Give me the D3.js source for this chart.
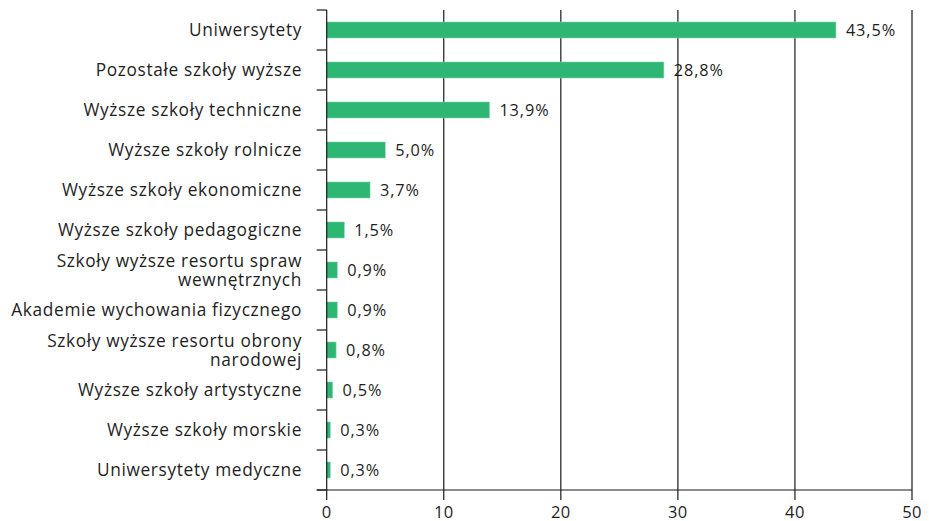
<!DOCTYPE html>
<html><head><meta charset="utf-8">
<script src="https://cdn.jsdelivr.net/npm/d3@7"></script>
<style>body{margin:0;background:#fff}svg{display:block}text{font-family:"Open Sans",Lato,sans-serif;fill:#1e1e1e}</style>
</head><body><svg id="c" width="929" height="521"></svg>
<script>
const categories = [
  ["Uniwersytety"],
  ["Pozostałe szkoły wyższe"],
  ["Wyższe szkoły techniczne"],
  ["Wyższe szkoły rolnicze"],
  ["Wyższe szkoły ekonomiczne"],
  ["Wyższe szkoły pedagogiczne"],
  ["Szkoły wyższe resortu spraw", "wewnętrznych"],
  ["Akademie wychowania fizycznego"],
  ["Szkoły wyższe resortu obrony", "narodowej"],
  ["Wyższe szkoły artystyczne"],
  ["Wyższe szkoły morskie"],
  ["Uniwersytety medyczne"]
];
const values = [43.5, 28.8, 13.9, 5.0, 3.7, 1.5, 0.9, 0.9, 0.8, 0.5, 0.3, 0.3];
const xTicks = [0, 10, 20, 30, 40, 50];

(function() {
const svg = d3.select("#c");
const mLeft = 326.7, mRight = 912, mTop = 10, mBottom = 490;
const x = d3.scaleLinear().domain([0, 50]).range([mLeft, mRight]);
const y = d3.scaleBand().domain(d3.range(categories.length)).range([mTop, mBottom]).paddingInner(0.6).paddingOuter(0.3);
const step = y.step();

svg.append("g").selectAll("line").data(xTicks.slice(1)).join("line")
  .attr("x1", d => x(d)).attr("x2", d => x(d)).attr("y1", mTop).attr("y2", mBottom + 10)
  .attr("stroke", "#1a1a1a").attr("stroke-width", 1.2);

svg.append("g").selectAll("rect").data(values).join("rect")
  .attr("x", x(0)).attr("y", (d, i) => y(i)).attr("width", d => x(d) - x(0)).attr("height", y.bandwidth())
  .attr("fill", "#2db674").attr("stroke", "#7fd3a6").attr("stroke-width", 0.6);

svg.append("line").attr("x1", mLeft).attr("x2", mLeft).attr("y1", mTop).attr("y2", mBottom + 10).attr("stroke", "#1a1a1a").attr("stroke-width", 1.2);
svg.append("g").selectAll("line").data(d3.range(categories.length + 1)).join("line")
  .attr("x1", mLeft - 10).attr("x2", mLeft).attr("y1", i => mTop + i * step).attr("y2", i => mTop + i * step)
  .attr("stroke", "#1a1a1a").attr("stroke-width", 1.2);
svg.append("line").attr("x1", mLeft - 10).attr("x2", mRight).attr("y1", mBottom).attr("y2", mBottom).attr("stroke", "#1a1a1a").attr("stroke-width", 1.2);

svg.append("g").selectAll("text").data(xTicks).join("text")
  .attr("x", d => x(d)).attr("y", 517.5).attr("text-anchor", "middle").attr("font-size", 16.5).attr("letter-spacing", 0.4).text(d => d);

const cl = svg.append("g").selectAll("text").data(categories).join("text")
  .attr("text-anchor", "end").attr("font-size", 17.3).attr("letter-spacing", 0.65);
cl.each(function(lines, i) {
  const cy = y(i) + y.bandwidth() / 2;
  const offs = lines.length === 1 ? [5.5] : [-3.5, 16];
  d3.select(this).selectAll("tspan").data(lines).join("tspan")
    .attr("x", 302).attr("y", (d, j) => cy + offs[j]).text(d => d);
});

svg.append("g").selectAll("text").data(values).join("text")
  .attr("x", d => x(d) + 10).attr("y", (d, i) => y(i) + y.bandwidth() / 2 + 5.5)
  .attr("font-size", 16.3).attr("letter-spacing", 0.9).text(d => d.toFixed(1).replace(".", ",") + "%");
})();
</script></body></html>
